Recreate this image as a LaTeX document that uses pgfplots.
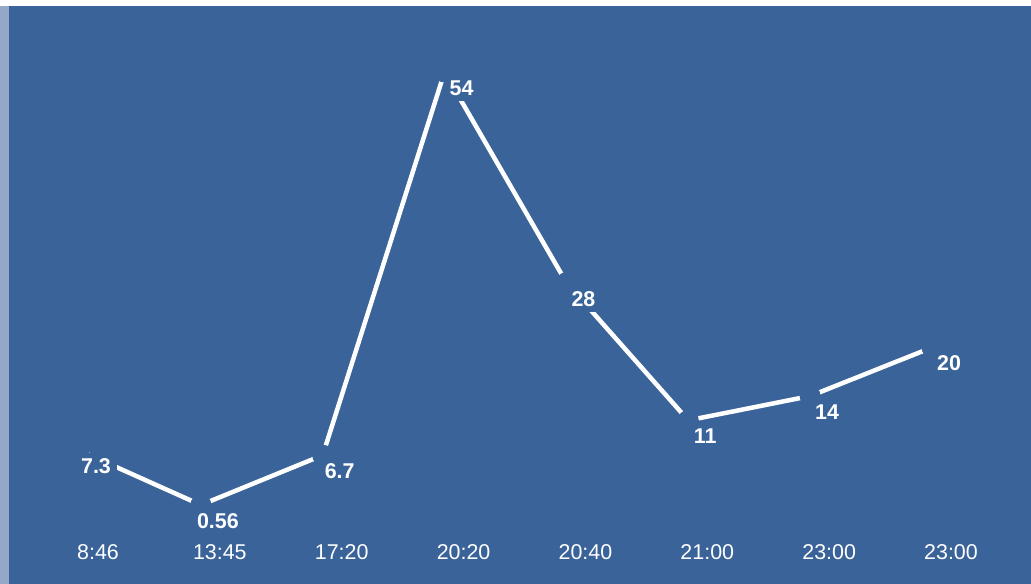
\documentclass[border=0pt]{standalone}
\usepackage{fontspec}
\setmainfont{Liberation Sans}
\usepackage{pgfplots}
\pgfplotsset{compat=1.18}
\definecolor{bg}{HTML}{3A639A}
\begin{document}
\begin{tikzpicture}[x=1bp,y=1bp]
\fill[white] (0,0) rectangle (1031,584);
\fill[bg!55!white] (0,0) rectangle (9,578);
\fill[bg] (9,0) rectangle (1031,578);
\begin{axis}[
  at={(79bp,74.5bp)}, anchor=south west,
  scale only axis, width=853bp, height=437.5bp,
  xmin=0, xmax=7, ymin=0, ymax=54,
  axis line style={draw=none},
  ytick=\empty,
  xtick={0,...,7},
  xticklabels={8:46,13:45,17:20,20:20,20:40,21:00,23:00,23:00},
  major tick length=0pt,
  xticklabel style={text=white, font=\fontsize{21.5}{24}\selectfont, anchor=center, yshift=-42.5bp, xshift=19bp},
  clip=false,
]
\addplot[white, line width=4.5bp] coordinates {(0,7.3)(1,0.56)(2,6.7)(3,54)(4,28)(5,11)(6,14)(7,20)};
\addplot[bg, only marks, mark=*, mark size=10bp, mark options={fill=bg, draw=bg, line width=1bp},
  nodes near coords, point meta=explicit symbolic,
  nodes near coords align={center},
  every node near coord/.append style={anchor=center, xshift=17bp, yshift=-16bp, fill=bg, draw=none, inner sep=6bp, text=white, font=\bfseries\fontsize{21.5}{24}\selectfont}]
  coordinates {(0,7.3)[7.3] (1,0.56)[0.56] (2,6.7)[6.7] (3,54)[54] (4,28)[28] (5,11)[11] (6,14)[14] (7,20)[20]};
\end{axis}
\end{tikzpicture}
\end{document}
